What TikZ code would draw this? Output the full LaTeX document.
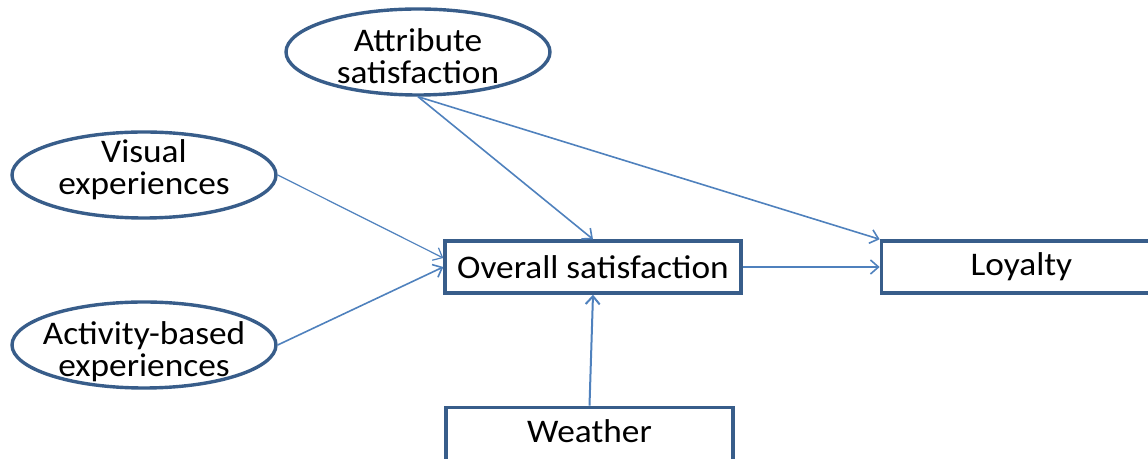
\documentclass[tikz,border=0pt]{standalone}
\usepackage{fontspec}
\setmainfont[FakeStretch=1.07]{Carlito}
\usetikzlibrary{arrows.meta,positioning,shapes.geometric}
\definecolor{linkblue}{HTML}{4F81BD}
\definecolor{edgeblue}{HTML}{385D8A}

\begin{document}
\begin{tikzpicture}[x=0.5pt, y=-0.5pt,
  box/.style={draw=edgeblue, line width=1.7pt, minimum width=148pt,
              minimum height=26pt, inner sep=0pt,
              font=\fontsize{16.5}{16}\selectfont},
  blob/.style={draw=edgeblue, line width=1.7pt, ellipse, minimum width=132pt,
               minimum height=43pt, inner sep=0pt},
  txt/.style={align=center, font=\fontsize{16.5}{16}\selectfont},
  link/.style={->, draw=linkblue, line width=0.8pt},
  >={Straight Barb[length=4pt, width=7pt]}]
\useasboundingbox (0,0) rectangle (1148,459);
\node[box] (ov) at (593,267) {Overall satisfaction};
\node[box, right=68.5pt of ov, minimum width=140pt] (loy) {Loyalty};
\node[box, below=55.5pt of ov, minimum width=143.5pt, minimum height=28pt,
      xshift=-1.75pt] (wea) {\raisebox{4pt}{Weather}};
\node[blob, label={[txt, yshift=-2pt]center:Attribute\\satisfaction}] (attr)
  at (418,52) {};
\node[blob, label={[txt, yshift=2.5pt]center:Visual\\experiences}] (vis)
  at (144,175) {};
\node[blob, label={[txt, yshift=-3.5pt]center:Activity-based\\experiences}] (act)
  at (144,345) {};
\draw[link] (attr.south) -- (ov.north);
\draw[link] (attr.south) -- (loy.north west);
\draw[link, line width=0.6pt] (vis.east) -- ([yshift=4.5pt]ov.west);
\draw[link] (act.east) -- (ov.west);
\draw[link] (ov.east) -- (loy.west);
\draw[link, line width=1pt] (wea.north) -- (ov.south);
\end{tikzpicture}
\end{document}
